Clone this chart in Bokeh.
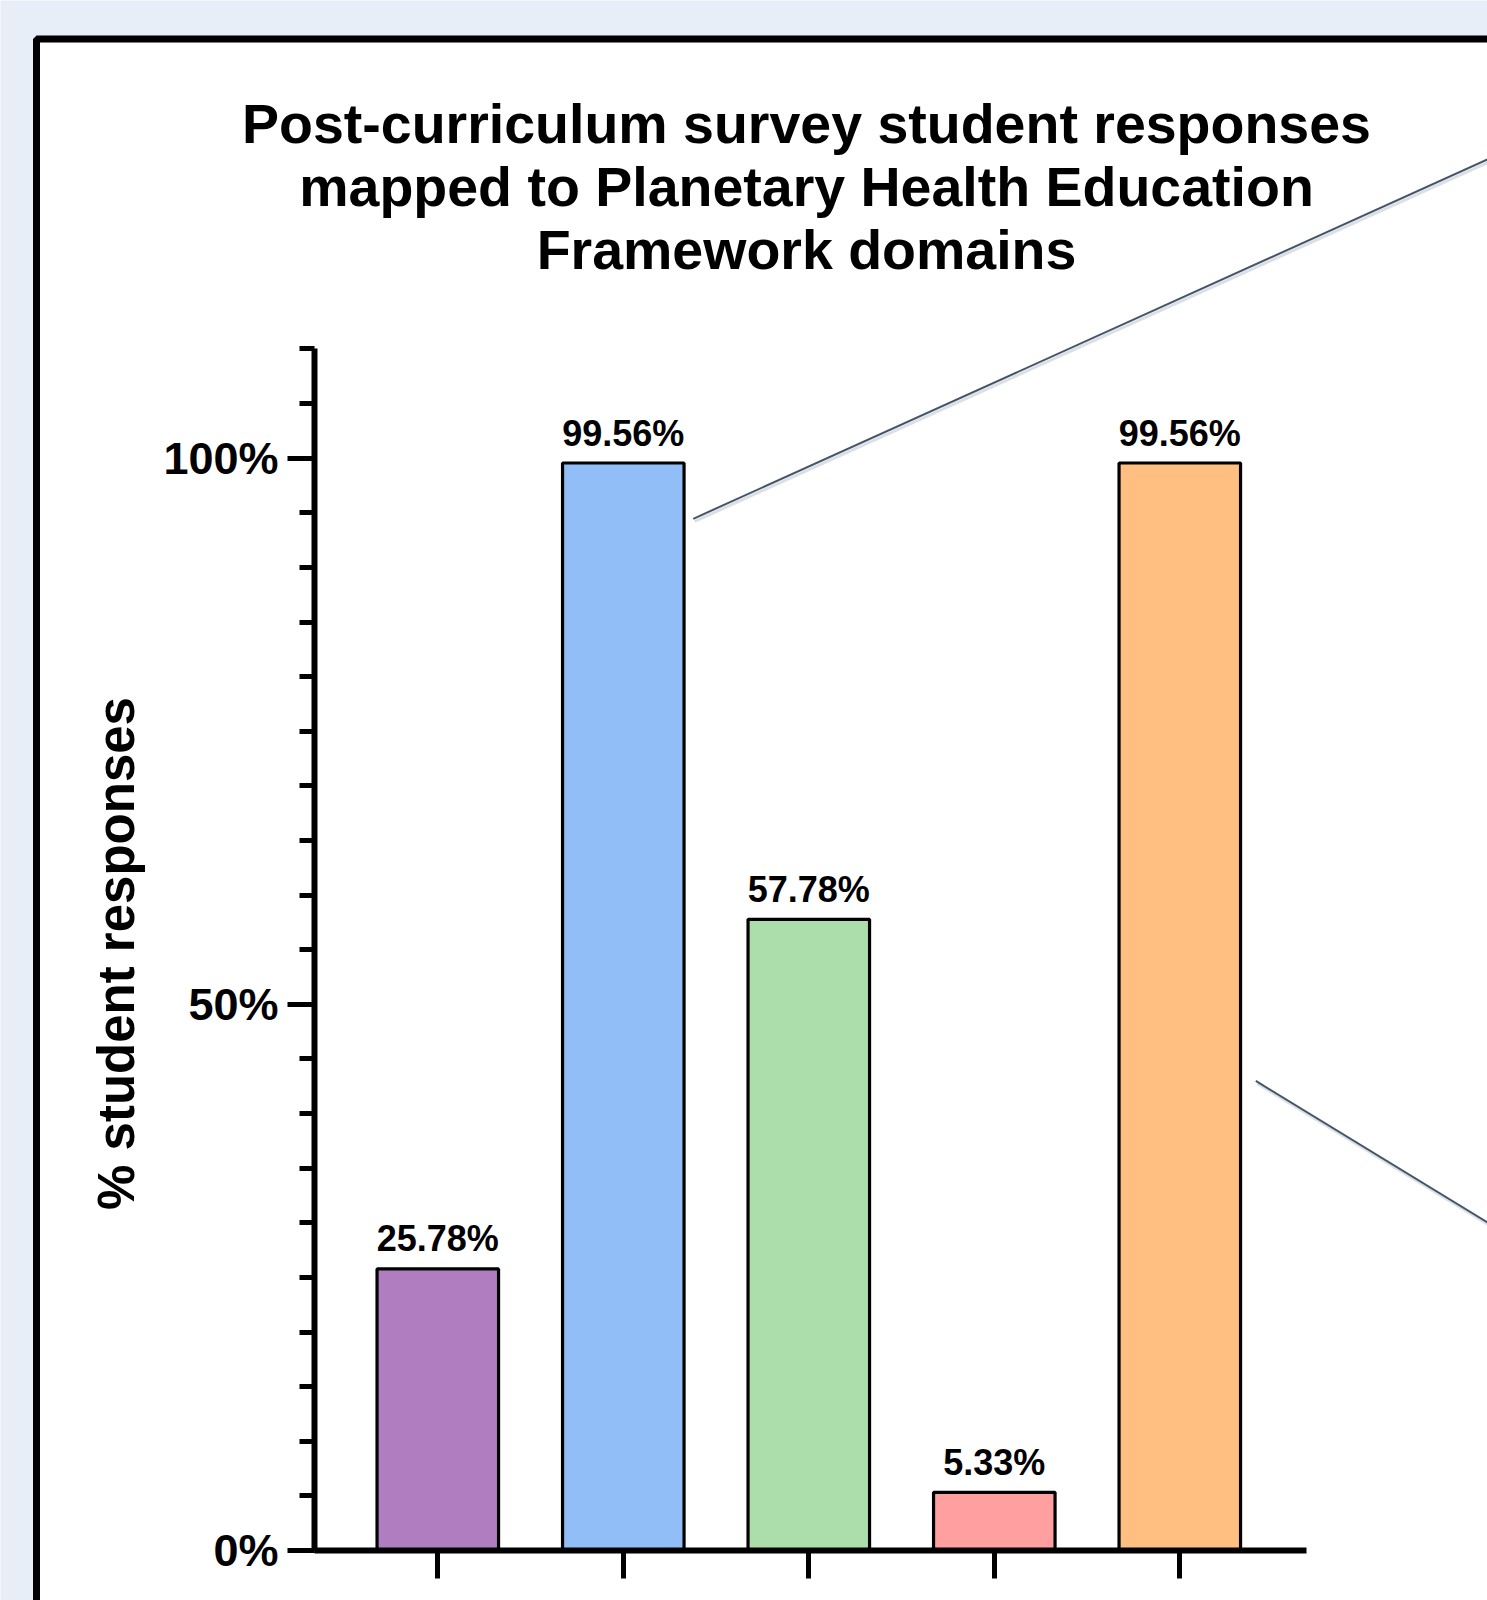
import math
from bokeh.plotting import figure
from bokeh.models import Range1d, FixedTicker, BoxAnnotation, ColumnDataSource
from bokeh.core.properties import value
from bokeh.embed import file_html
from bokeh.resources import INLINE

# ---------------- data ----------------
categories = [
    "Interconnection within Nature",
    "The Anthropocene and Health",
    "Systems Thinking and Complexity",
    "Equity and Social Justice",
    "Movement Building and Systems Change",
]
percentages = [25.78, 99.56, 57.78, 5.33, 99.56]
value_labels = ["25.78%", "99.56%", "57.78%", "5.33%", "99.56%"]
bar_colors = ["#B07EC0", "#92BEF8", "#ACDEAC", "#FF9FA0", "#FFBF80"]
y_major_ticks = [0, 50, 100]
y_tick_labels = ["0%", "50%", "100%"]
y_minor_ticks = list(range(0, 115, 5))
title_lines = [
    "Post-curriculum survey student responses",
    "mapped to Planetary Health Education",
    "Framework domains",
]
y_axis_title = "% student responses"

# ---------------- layout (pixel geometry of the canvas) ----------------
W, H = 1487, 1600
X0_PX, X_STEP = 437.3, 185.5      # pixel of first category, pixels per category
Y0_PX, Y_STEP = 1550.0, 10.923    # pixel of 0%, pixels per percent
BG = "#E7EEF7"
FONT = value("Liberation Sans")


def px_x(px):
    return (px - X0_PX) / X_STEP


def px_y(py):
    return (Y0_PX - py) / Y_STEP


p = figure(
    width=W, height=H,
    x_range=Range1d(px_x(0), px_x(W)),
    y_range=Range1d(px_y(H), px_y(0)),
    output_backend="svg", toolbar_location=None,
    min_border=0, background_fill_color=BG, border_fill_color=BG,
    outline_line_color=None,
)
p.xgrid.visible = False
p.ygrid.visible = False

# white panel with black frame (partially outside the window)
panel = BoxAnnotation(
    left=px_x(36), right=px_x(1700), top=px_y(38.5), bottom=px_y(1800),
    fill_color="white", fill_alpha=1.0,
    line_color="black", line_alpha=1.0, line_width=7,
    level="underlay",
)
p.add_layout(panel)

# bars
xs = list(range(len(categories)))
src = ColumnDataSource(dict(x=xs, cat=categories, top=percentages,
                            color=bar_colors, lab=value_labels))
p.vbar(x="x", top="top", bottom=0, width=0.655, source=src,
       fill_color="color", line_color="black", line_width=3.2)
p.text(x="x", y="top", text="lab", source=src, y_offset=-30,
       text_align="center", text_baseline="alphabetic",
       text_font=FONT, text_font_style="bold", text_font_size="36px",
       text_color="black")

# y axis
yax = p.yaxis[0]
yax.fixed_location = px_x(314)
yax.bounds = (0, 110)
yax.ticker = FixedTicker(ticks=y_major_ticks, minor_ticks=y_minor_ticks)
yax.major_label_overrides = {t: l for t, l in zip(y_major_ticks, y_tick_labels)}
yax.axis_line_width = 6
yax.axis_line_color = "black"
yax.major_tick_line_width = 5
yax.minor_tick_line_width = 5
yax.major_tick_out = 27
yax.major_tick_in = 0
yax.minor_tick_out = 15
yax.minor_tick_in = 0
yax.major_label_standoff = 9
yax.major_label_text_font = "Liberation Sans"
yax.major_label_text_font_style = "bold"
yax.major_label_text_font_size = "45px"
yax.major_label_text_color = "black"

# x axis
xax = p.xaxis[0]
xax.fixed_location = 0
xax.bounds = (px_x(314), px_x(1306))
xax.ticker = FixedTicker(ticks=xs, minor_ticks=[])
xax.major_label_overrides = {i: "" for i in xs}
xax.axis_line_width = 6
xax.axis_line_color = "black"
xax.major_tick_line_width = 5
xax.major_tick_out = 28
xax.major_tick_in = 0

# title
title_baselines_px = [123.0, 186.3, 249.6]
p.text(x=[px_x(806)] * 3, y=[px_y(b) for b in title_baselines_px],
       text=title_lines, text_align="center", text_baseline="alphabetic",
       text_font=FONT, text_font_style="bold", text_font_size="55.5px",
       text_color="black")

# y-axis title
p.text(x=[px_x(116)], y=[px_y(953)], text=[y_axis_title], angle=math.pi / 2,
       text_align="center", text_baseline="alphabetic",
       text_font=FONT, text_font_style="bold", text_font_size="51px",
       text_color="black")

# callout lines (decoration leading to an off-canvas panel)
callout_x0 = [px_x(692.7), px_x(1255.3)]
callout_y0 = [px_y(518.3), px_y(1080.4)]
callout_x1 = [px_x(1500), px_x(1500)]
callout_y1 = [px_y(518.3 - 0.4524 * (1500 - 692.7)), px_y(1080.4 + 0.611 * (1500 - 1255.3))]
p.segment(x0=[v + 1.5 / X_STEP for v in callout_x0],
          y0=[v - 2.5 / Y_STEP for v in callout_y0],
          x1=[v + 1.5 / X_STEP for v in callout_x1],
          y1=[v - 2.5 / Y_STEP for v in callout_y1],
          line_color="#9AA3AE", line_width=3, line_alpha=0.35)
p.segment(x0=callout_x0, y0=callout_y0, x1=callout_x1, y1=callout_y1,
          line_color="#44546A", line_width=2)

open("out.html", "w").write(file_html(p, INLINE))
